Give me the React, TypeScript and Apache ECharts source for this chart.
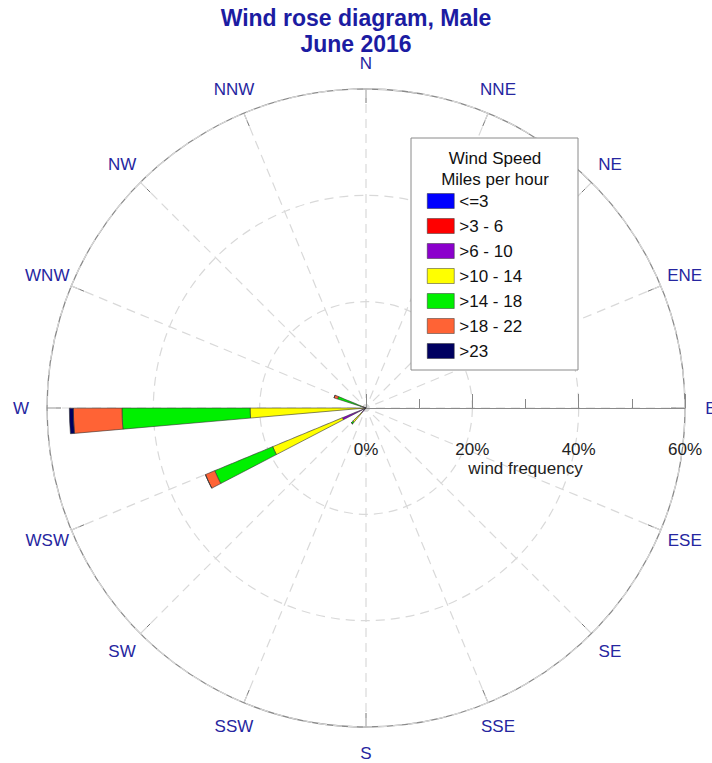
import React, { useEffect, useRef } from "react";
import * as echarts from "echarts";

// Compass sectors, clockwise starting from East (radius axis lies along East)
const directions = ["E", "ESE", "SE", "SSE", "S", "SSW", "SW", "WSW", "W", "WNW", "NW", "NNW", "N", "NNE", "NE", "ENE"];
const sectorStep = 22.5;

const speedBins = ["<=3", ">3 - 6", ">6 - 10", ">10 - 14", ">14 - 18", ">18 - 22", ">23"];
const binColors = ["#0000FF", "#FF0000", "#8B00CC", "#FFFF00", "#00F000", "#FF6335", "#000060"];

// wind frequency (%) per direction for each speed bin
const le3 =     [0, 0, 0, 0, 0, 0, 0,   0,    0,    0,   0, 0, 0, 0, 0, 0];
const s3to6 =   [0, 0, 0, 0, 0, 0, 0,   0,    0,    0,   0, 0, 0, 0, 0, 0];
const s6to10 =  [0, 0, 0, 0, 0, 0, 1.2, 4.8,  0.3,  0.6, 0, 0, 0, 0, 0, 0];
const s10to14 = [0, 0, 0, 0, 0, 0, 2.3, 14.2, 21.5, 0.4, 0, 0, 0, 0, 0, 0];
const s14to18 = [0, 0, 0, 0, 0, 0, 0.4, 11.8, 24.1, 4.6, 0, 0, 0, 0, 0, 0];
const s18to22 = [0, 0, 0, 0, 0, 0, 0,   1.9,  9.15, 0.7, 0, 0, 0, 0, 0, 0];
const s23 =     [0, 0, 0, 0, 0, 0, 0,   0,    0.75, 0,   0, 0, 0, 0, 0, 0];
const binData = [le3, s3to6, s6to10, s10to14, s14to18, s18to22, s23];

const FONT = "Arial, 'Liberation Sans', sans-serif";

export default function App() {
  const ref = useRef<HTMLDivElement>(null);
  useEffect(() => {
    if (!ref.current) return;
    const chart = echarts.init(ref.current, null, { renderer: "svg" });
    const center = [366, 408];
    const radius = 319;
    const rMax = 60;
    const labelR = rMax * 345 / 319; // compass labels sit just outside the outer ring
    chart.setOption({
      animation: false,
      backgroundColor: "#ffffff",
      title: [
        { text: "Wind rose diagram, Male", left: "center", top: 6, padding: 0, textStyle: { fontFamily: FONT, fontSize: 23, fontWeight: "bold", color: "#1C1CA2" } },
        { text: "June 2016", left: "center", top: 32, padding: 0, textStyle: { fontFamily: FONT, fontSize: 23, fontWeight: "bold", color: "#1C1CA2" } },
      ],
      polar: [
        { center, radius },
        { center, radius },
      ],
      angleAxis: [
        {
          polarIndex: 0,
          type: "value",
          min: 0,
          max: 360,
          interval: sectorStep,
          startAngle: 0,
          clockwise: true,
          axisLine: { show: true, lineStyle: { color: "#8a8a8a", width: 1.3 } },
          axisTick: { show: true, inside: true, length: 14, lineStyle: { color: "#777", width: 1 } },
          axisLabel: { show: false },
          splitLine: { show: true, lineStyle: { color: "#d9d9d9", type: [9, 6], width: 1.2 } },
        },
        {
          polarIndex: 1,
          type: "category",
          data: directions,
          startAngle: 2.5,
          clockwise: true,
          boundaryGap: false,
          show: false,
        },
      ],
      radiusAxis: [
        {
          polarIndex: 0,
          type: "value",
          min: 0,
          max: rMax,
          interval: 20,
          axisLine: { show: true, lineStyle: { color: "#8a8a8a", width: 1.2 } },
          axisTick: { show: true, inside: true, length: 14, lineStyle: { color: "#888" } },
          minorTick: { show: true, splitNumber: 2, length: 9, lineStyle: { color: "#888" } },
          axisLabel: { formatter: "{value}%", fontSize: 17, fontFamily: FONT, color: "#222", margin: -50 },
          splitLine: { show: true, lineStyle: { color: "#d9d9d9", type: [9, 6], width: 1.2 } },
          name: "wind frequency",
          nameLocation: "middle",
          nameGap: 52,
          nameTextStyle: { fontSize: 17, fontFamily: FONT, color: "#222" },
          z: 3,
        },
        { polarIndex: 1, type: "value", min: 0, max: rMax, show: false },
      ],
      legend: {
        data: speedBins,
        orient: "vertical",
        left: 422,
        top: 187.5,
        itemWidth: 27,
        itemHeight: 15,
        itemGap: 8,
        itemStyle: { borderWidth: 0.5 },
        icon: "rect",
        textStyle: { fontSize: 17, fontFamily: FONT, color: "#111" },
        selectedMode: false,
        z: 30,
      },
      graphic: [
        { type: "rect", z: 20, shape: { x: 411, y: 138, width: 167, height: 232 }, style: { fill: "#ffffff", stroke: "#8a8a8a", lineWidth: 1 } },
        { type: "text", z: 30, x: 495, y: 158, style: { text: "Wind Speed", fontSize: 17, fontFamily: FONT, fill: "#111", align: "center", verticalAlign: "middle" } },
        { type: "text", z: 30, x: 495, y: 179, style: { text: "Miles per hour", fontSize: 17, fontFamily: FONT, fill: "#111", align: "center", verticalAlign: "middle" } },
      ],
      series: [
        ...speedBins.map((name, i) => ({
          name,
          type: "bar",
          coordinateSystem: "polar",
          polarIndex: 1,
          stack: "wind",
          barWidth: "22%",
          data: binData[i],
          itemStyle: { color: binColors[i], borderColor: "#333", borderWidth: 0.6 },
          z: 5,
        })),
        {
          name: "compass",
          type: "scatter",
          coordinateSystem: "polar",
          polarIndex: 0,
          clip: false,
          symbolSize: 0,
          silent: true,
          itemStyle: { opacity: 1 },
          data: directions.map((d, i) => ({ name: d, value: [labelR, i * sectorStep] })),
          label: {
            show: true,
            position: "inside",
            formatter: "{b}",
            fontSize: 17,
            fontFamily: FONT,
            color: "#2626A0",
            textBorderWidth: 0,
            textBorderColor: "transparent",
          },
        },
      ],
    });
    return () => chart.dispose();
  }, []);
  return <div ref={ref} style={{ position: "absolute", left: 0, top: 0, width: 712, height: 763 }} />;
}
